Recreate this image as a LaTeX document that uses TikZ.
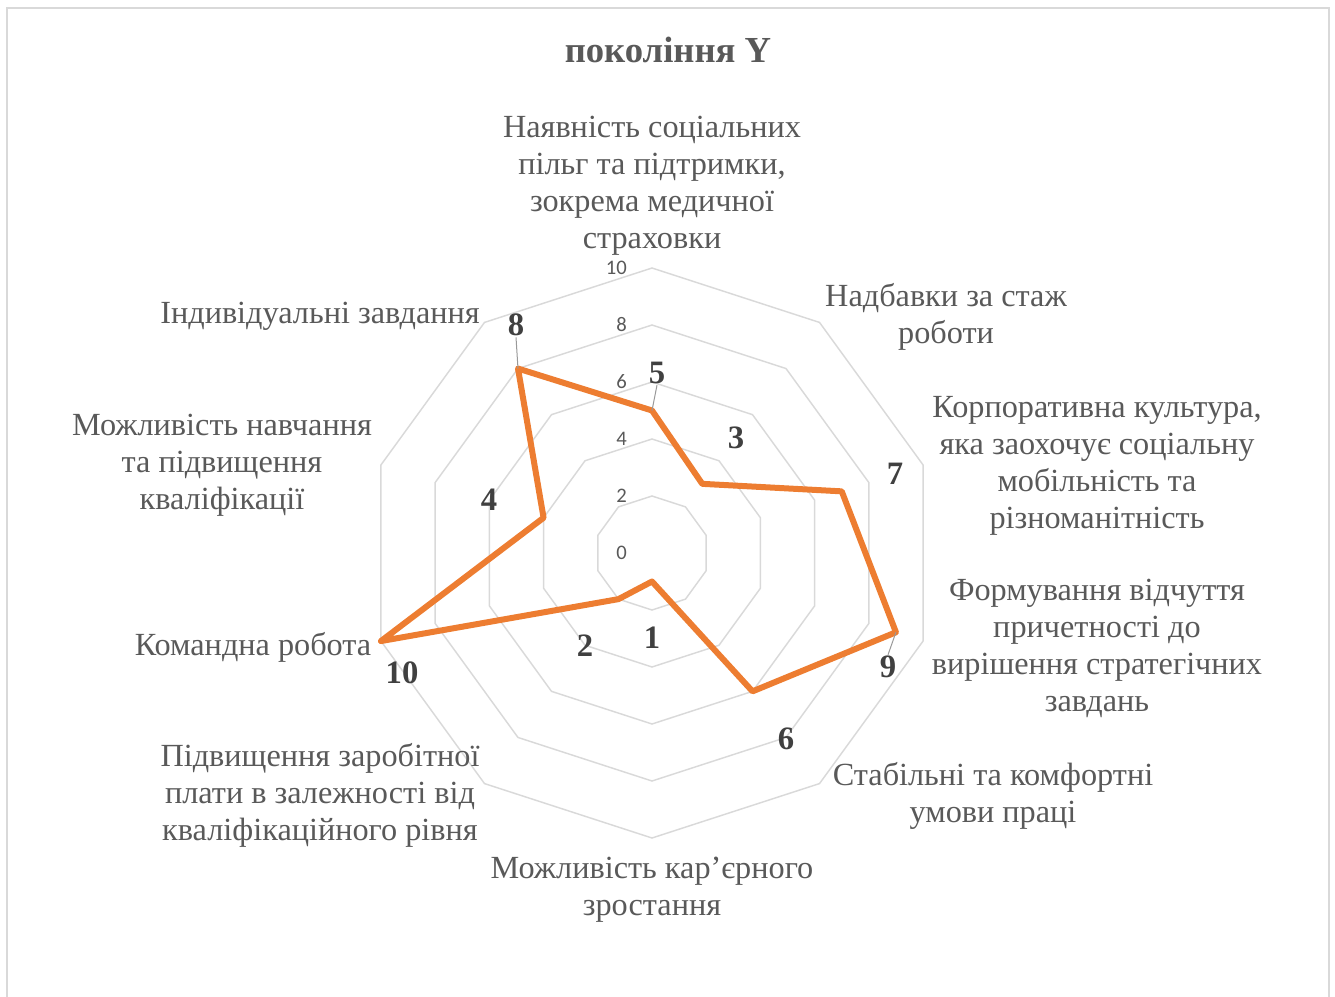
\documentclass[tikz,border=0pt]{standalone}
\usepackage{fontspec}
\setmainfont{Liberation Serif}
\newfontfamily\tickfont{Carlito}
\usepackage{xcolor}
\usepackage{tikz}

\definecolor{gridgray}{RGB}{217,217,217}
\definecolor{textgray}{RGB}{89,89,89}
\definecolor{valgray}{RGB}{64,64,64}
\definecolor{seriesorange}{RGB}{237,125,49}

\tikzset{
  axislabel/.style={anchor=center, inner sep=0.75pt, align=center, text=textgray, font=\fontsize{24.2}{27.75}\selectfont},
  vallabel/.style={anchor=center, inner sep=0.75pt, text=valgray, font=\fontsize{24.5}{27.75}\selectfont\bfseries},
  ticklabel/.style={anchor=east, inner sep=0.75pt, text=textgray, font=\tickfont\fontsize{15.5}{18}\selectfont},
  leader/.style={draw=gray!80, line width=0.75},
}

\begin{document}
\begin{tikzpicture}[x=0.75pt,y=0.75pt,yscale=-1,xscale=1]
\useasboundingbox (0,0) rectangle (1335,996);
%Shape: Frame
\draw [color=gridgray, line width=1.5] (7,8) -- (1329,8) -- (1329,1010) -- (7,1010) -- cycle ;
% Title
\draw (668,50) node [anchor=center][inner sep=0.75pt][text=textgray, font=\fontsize{27.5}{32}\selectfont\bfseries] (title) {покоління Y};

\begin{scope}[shift={(652,553)}]
%Shape: Grid decagons
\foreach \r in {57,114,171,228,285}
  \draw [color=gridgray, line width=1.1] (-90:\r) \foreach \a in {-54,-18,...,234} { -- (\a:\r) } -- cycle ;
% Tick labels
\foreach \v in {0,2,...,10}
  \draw (-24,-28.5*\v) node [ticklabel] (tick\v) {\v};
% Data points
\coordinate (p0) at (-90:142.5);
\coordinate (p1) at (-54:85.5);
\coordinate (p2) at (-18:199.5);
\coordinate (p3) at (18:256.5);
\coordinate (p4) at (54:171);
\coordinate (p5) at (90:28.5);
\coordinate (p6) at (126:57);
\coordinate (p7) at (162:285);
\coordinate (p8) at (198:114);
\coordinate (p9) at (234:228);
%Shape: Series
\draw [color=seriesorange, line width=4.5, line join=round] (p0) -- (p1) -- (p2) -- (p3) -- (p4) -- (p5) -- (p6) -- (p7) -- (p8) -- (p9) -- cycle ;
\end{scope}

% Value labels
\draw (657,373) node [vallabel] (v0) {5};
\draw (736,438) node [vallabel] (v1) {3};
\draw (895,474) node [vallabel] (v2) {7};
\draw (888,667) node [vallabel] (v3) {9};
\draw (786,739) node [vallabel] (v4) {6};
\draw (652,638) node [vallabel] (v5) {1};
\draw (585,646) node [vallabel] (v6) {2};
\draw (402,673) node [vallabel] (v7) {10};
\draw (489,500) node [vallabel] (v8) {4};
\draw (516,325) node [vallabel] (v9) {8};
% Leader lines
\draw [leader] (v0.south) -- (p0) ;
\draw [leader] (v9.south) -- (p9) ;
\draw [leader] (v3.north) -- (p3) ;

% Text Node
\draw (652,186) node [axislabel] (cat0) {Наявність соціальних\\пільг та підтримки,\\зокрема медичної\\страховки};
% Text Node
\draw (946,317) node [axislabel] (cat1) {Надбавки за стаж\\роботи};
% Text Node
\draw (1097,466) node [axislabel] (cat2) {Корпоративна культура,\\яка заохочує соціальну\\мобільність та\\різноманітність};
% Text Node
\draw (1097,648) node [axislabel] (cat3) {Формування відчуття\\причетності до\\вирішення стратегічних\\завдань};
% Text Node
\draw (993,796) node [axislabel] (cat4) {Стабільні та комфортні\\умови праці};
% Text Node
\draw (652,890) node [axislabel] (cat5) {Можливість кар’єрного\\зростання};
% Text Node
\draw (320,795) node [axislabel] (cat6) {Підвищення заробітної\\плати в залежності від\\кваліфікаційного рівня};
% Text Node
\draw (253,647) node [axislabel] (cat7) {Командна робота};
% Text Node
\draw (222,465) node [axislabel] (cat8) {Можливість навчання\\та підвищення\\кваліфікації};
% Text Node
\draw (320,316) node [axislabel] (cat9) {Індивідуальні завдання};
\end{tikzpicture}
\end{document}
